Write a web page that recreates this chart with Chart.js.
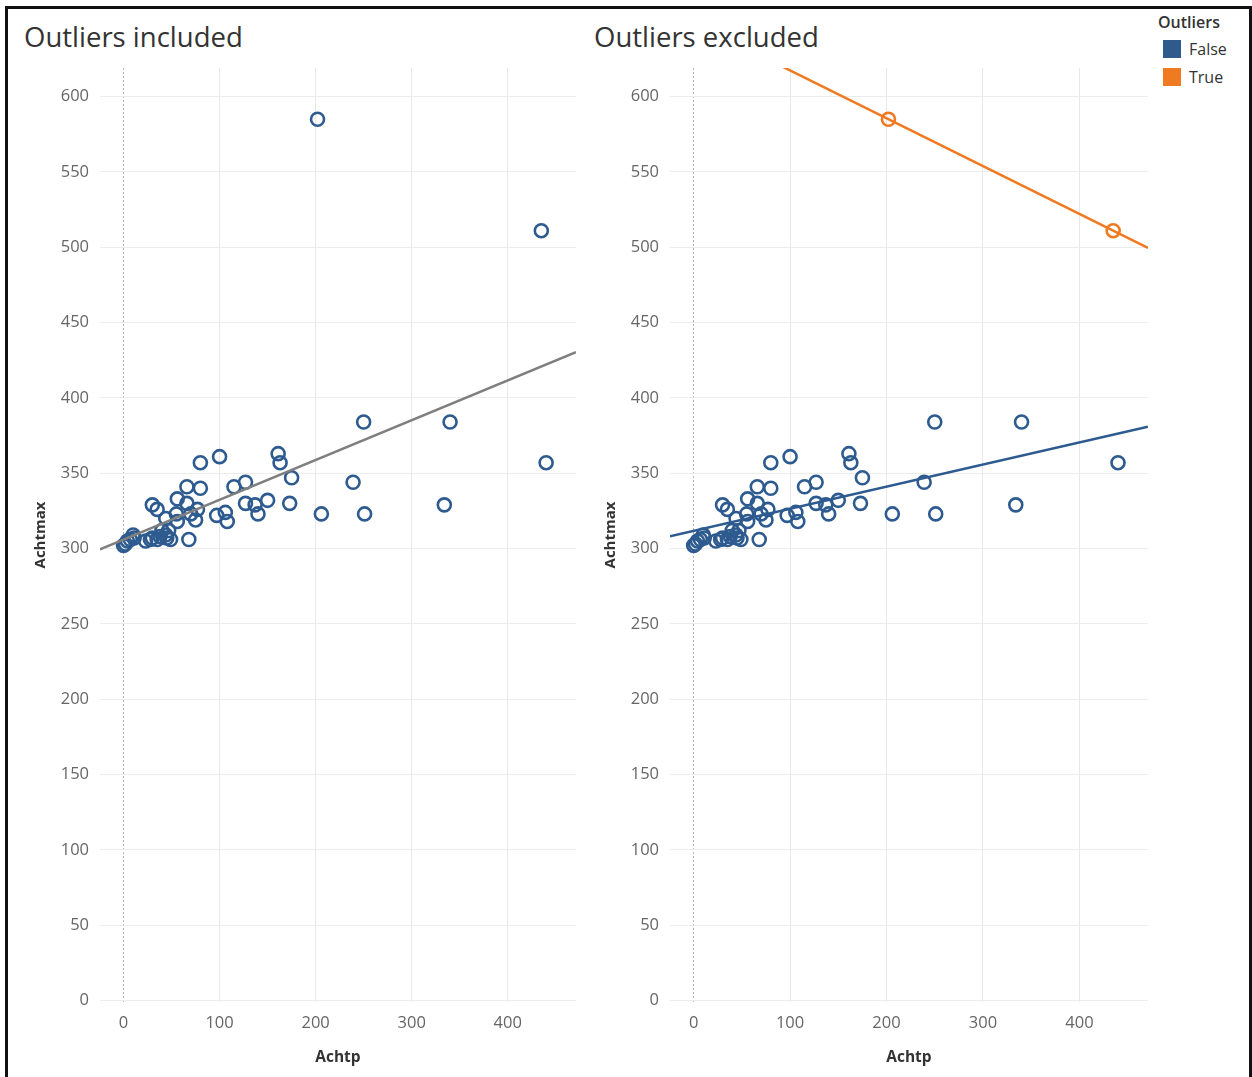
<!DOCTYPE html>
<html>
<head>
<meta charset="utf-8">
<script src="https://cdn.jsdelivr.net/npm/chart.js@4.4.1/dist/chart.umd.min.js"></script>
<style>
  body { margin: 0; background: #fff; font-family: "Open Sans", "Noto Sans", sans-serif; }
  #frame { position: absolute; left: 5px; top: 6px; width: 1241px; height: 1075px; border: 3px solid #111; }
  .title { position: absolute; top: 18px; font-size: 27.5px; color: #333; }
  .box { position: absolute; }
  #legend { position: absolute; left: 1158px; top: 10px; font-size: 16px; color: #333; }
  #legend .head { font-weight: 600; height: 30px; line-height: 24px; }
  #legend .item { height: 28px; line-height: 18px; }
  #legend .sw { display: inline-block; width: 18px; height: 18px; margin-left: 5px; margin-right: 8px; vertical-align: top; }
</style>
</head>
<body>
<div id="frame"></div>
<div class="title" style="left:24px">Outliers included</div>
<div class="title" style="left:594px">Outliers excluded</div>
<div id="legend">
  <div class="head">Outliers</div>
  <div class="item"><span class="sw" style="background:#2e5a8c"></span>False</div>
  <div class="item"><span class="sw" style="background:#f07a22"></span>True</div>
</div>
<div class="box" style="left:10px;top:10px;width:575px;height:1060px"><canvas id="left"></canvas></div>
<div class="box" style="left:580px;top:10px;width:577px;height:1060px"><canvas id="right"></canvas></div>
<script>
// Achtp vs Achtmax
const achtp = [0, 2, 4, 7, 10, 11, 23, 28, 30, 35, 38, 40, 44, 47, 49, 45,
  30, 35, 44, 55, 56, 56, 66, 66, 68, 70, 75, 77, 80, 80, 97, 100, 106, 108, 115,
  127, 127, 137, 140, 150, 161, 163, 173, 175, 206, 239, 250, 251, 334, 340, 440,
  202, 435];
const achtmax = [302, 303, 305, 306, 309, 307, 305, 306, 307, 306, 308, 312, 309, 312, 306, 307,
  329, 326, 320, 323, 318, 333, 341, 330, 306, 323, 319, 326, 357, 340, 322, 361, 324, 318, 341,
  344, 330, 329, 323, 332, 363, 357, 330, 347, 323, 344, 384, 323, 329, 384, 357,
  585, 511];
const outlier = achtp.map((v, i) => i >= 51);

const yTicks = [0, 50, 100, 150, 200, 250, 300, 350, 400, 450, 500, 550, 600];
const xTicks = [0, 100, 200, 300, 400];

const X_MIN = -24.5, X_MAX = 471;
const Y_MIN = -1, Y_MAX = 619;

const BLUE = "#2e5b8f";
const ORANGE = "#f07a22";
const GRAY = "#7f7f7f";

function pts(filter) {
  let out = [];
  for (let i = 0; i < achtp.length; i++) {
    if (filter(i)) out.push({x: achtp[i], y: achtmax[i]});
  }
  return out;
}

// least squares trend line over the scale's x range
function trend(points) {
  let n = points.length, sx = 0, sy = 0, sxx = 0, sxy = 0;
  points.forEach(p => { sx += p.x; sy += p.y; sxx += p.x * p.x; sxy += p.x * p.y; });
  let b = (n * sxy - sx * sy) / (n * sxx - sx * sx);
  let a = (sy - b * sx) / n;
  return [{x: X_MIN, y: a + b * X_MIN}, {x: X_MAX, y: a + b * X_MAX}];
}

function circles(data, color) {
  return {
    type: "scatter",
    data: data,
    pointStyle: "circle",
    pointRadius: 6.5,
    pointHoverRadius: 6.5,
    borderWidth: 2.6,
    borderColor: color,
    backgroundColor: "rgba(0,0,0,0)"
  };
}

function lineSet(data, color) {
  return {
    type: "line",
    data: data,
    borderColor: color,
    borderWidth: 2.5,
    pointRadius: 0,
    fill: false
  };
}

function options() {
  return {
    responsive: true,
    maintainAspectRatio: false,
    animation: false,
    layout: { padding: { top: 58, right: 8, left: 0, bottom: 0 } },
    plugins: { legend: { display: false }, tooltip: { enabled: false } },
    scales: {
      x: {
        type: "linear",
        min: X_MIN,
        max: X_MAX,
        afterFit: (s) => { s.height = 68; },
        afterBuildTicks: (s) => { s.ticks = xTicks.map(v => ({value: v})); },
        ticks: { color: "#666", padding: 11, font: { family: "Open Sans", size: 16.5 } },
        grid: {
          drawTicks: false,
          color: (c) => c.tick && c.tick.value === 0 ? "#b5b5b5" : "#e8e8e8",
          lineWidth: 1
        },
        border: { display: false, dash: (c) => c.tick && c.tick.value === 0 ? [2, 2] : [] },
        title: { display: true, text: "Achtp", color: "#333", padding: { bottom: 3 },
          font: { family: "Open Sans", size: 15.5, weight: "bold" } }
      },
      y: {
        type: "linear",
        min: Y_MIN,
        max: Y_MAX,
        afterFit: (s) => { s.width = 90; },
        afterBuildTicks: (s) => { s.ticks = yTicks.map(v => ({value: v})); },
        ticks: { color: "#666", padding: 11, font: { family: "Open Sans", size: 16.5 } },
        grid: { drawTicks: false, color: "#ececec", lineWidth: 1 },
        border: { display: false },
        title: { display: true, text: "Achtmax", color: "#333", padding: { top: 22 },
          font: { family: "Open Sans", size: 15, weight: "bold" } }
      }
    }
  };
}

const allPts = pts(i => true);
const normalPts = pts(i => !outlier[i]);
const outPts = pts(i => outlier[i]);

new Chart(document.getElementById("left"), {
  type: "scatter",
  data: {
    datasets: [
      lineSet(trend(allPts), GRAY),
      circles(allPts, BLUE)
    ]
  },
  options: options()
});

new Chart(document.getElementById("right"), {
  type: "scatter",
  data: {
    datasets: [
      lineSet(trend(normalPts), BLUE),
      lineSet(trend(outPts), ORANGE),
      circles(outPts, ORANGE),
      circles(normalPts, BLUE)
    ]
  },
  options: options()
});
</script>
</body>
</html>
